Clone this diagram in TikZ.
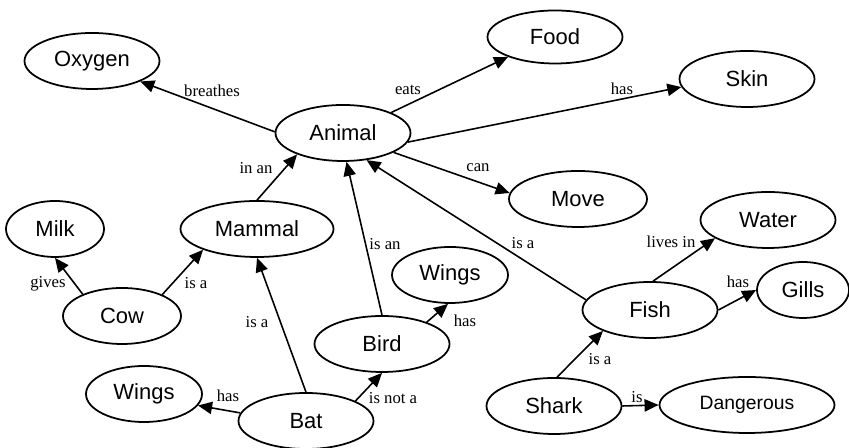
\documentclass[tikz,border=0pt]{standalone}
\usepackage{fontspec}
\setmainfont{Liberation Serif}
\newfontfamily\conceptfont{Liberation Sans}
\usetikzlibrary{shapes.geometric,arrows.meta}

\begin{document}
\begin{tikzpicture}[
    concept/.style={ellipse, draw, line width=1pt, inner sep=0pt,
        minimum width=2.7cm, minimum height=1.12cm,
        font=\conceptfont\fontsize{12.5}{14}\selectfont},
    lbl/.style={inner sep=1pt, font=\fontsize{9.5}{11}\selectfont},
    link/.style={line width=0.9pt, -{Triangle[length=8pt,width=7pt]}},
]
\useasboundingbox (0,0) rectangle (16.98,8.96);

% Concepts
\node[concept] (animal) at (6.86,6.30) {Animal};
\node[concept] (oxygen) at (1.84,7.74) {Oxygen};
\node[concept, minimum height=1.06cm] (food) at (11.10,8.22) {Food};
\node[concept] (skin) at (14.94,7.38) {Skin};
\node[concept, minimum width=2.76cm] (move) at (11.56,4.98) {Move};
\node[concept] (water) at (15.36,4.56) {Water};
\node[concept, minimum width=1.96cm] (milk) at (1.10,4.38) {Milk};
\node[concept, minimum width=3.06cm] (mammal) at (5.14,4.38) {Mammal};
\node[concept, minimum width=2.36cm] (cow) at (2.44,2.64) {Cow};
\node[concept, minimum width=2.32cm] (wingsB) at (9.00,3.46) {Wings};
\node[concept] (bird) at (7.64,2.08) {Bird};
\node[concept] (fish) at (13.00,2.76) {Fish};
\node[concept, minimum width=1.84cm] (gills) at (16.06,3.16) {Gills};
\node[concept, minimum width=2.32cm] (wingsM) at (2.88,1.08) {Wings};
\node[concept] (bat) at (6.12,0.54) {Bat};
\node[concept] (shark) at (11.08,0.84) {Shark};
\node[concept, minimum width=3.5cm] (danger) at (14.94,0.86) {\fontsize{11}{13}\selectfont Dangerous};

% --- Animal ---
\draw[link] (animal.179) -- (oxygen.-23);
\draw[link] (animal.23) -- (food.203);
\draw[link] (animal.-8) -- (skin.187);
\draw[link] (animal.-21) -- (move.175);

\node[lbl] (lBreathes) at (4.24,7.14) {breathes};
\node[lbl] (lEats) at (8.16,7.16) {eats};
\node[lbl] (lHasSkin) at (12.44,7.18) {has};
\node[lbl] (lCan) at (9.56,5.60) {can};

% --- Kinds of animal ---
\draw[link] (mammal.90) -- (animal.205);
\draw[link] (bird.90) -- (animal.-83);
\draw[link] (fish.171) -- (animal.-49);

\node[lbl] (lInAn) at (5.12,5.60) {in an};
\node[lbl] (lIsAnBird) at (7.70,4.08) {is an};
\node[lbl] (lIsAFish) at (10.46,4.10) {is a};

% --- Mammals ---
\draw[link] (cow.151) -- (milk.-90);
\draw[link] (cow.28) -- (mammal.201);
\draw[link] (bat.90) -- (mammal.-90);
\draw[link] (bat.173) -- (wingsM.-12);
\draw[link] (bat.22) -- (bird.-90);

\node[lbl] (lGives) at (0.96,3.28) {gives};
\node[lbl] (lIsACow) at (3.92,3.30) {is a};
\node[lbl] (lIsABat) at (5.14,2.52) {is a};
\node[lbl] (lHasBat) at (4.56,1.04) {has};
\node[lbl] (lIsNotA) at (7.86,1.00) {is not a};

% --- Bird ---
\draw[link] (bird.26) -- (wingsB.-94);
\node[lbl] (lHasBird) at (9.30,2.54) {has};

% --- Fish ---
\draw[link] (fish.84) -- (water.199);
\draw[link] (fish.0) -- (gills.180);
\draw[link] (shark.84) -- (fish.204);
\draw[link] (shark.0) -- (danger.180);

\node[lbl] (lLivesIn) at (13.42,4.12) {lives in};
\node[lbl] (lHasFish) at (14.76,3.32) {has};
\node[lbl] (lIsAShark) at (12.00,1.78) {is a};
\node[lbl] (lIs) at (12.74,1.02) {is};

\end{tikzpicture}
\end{document}
